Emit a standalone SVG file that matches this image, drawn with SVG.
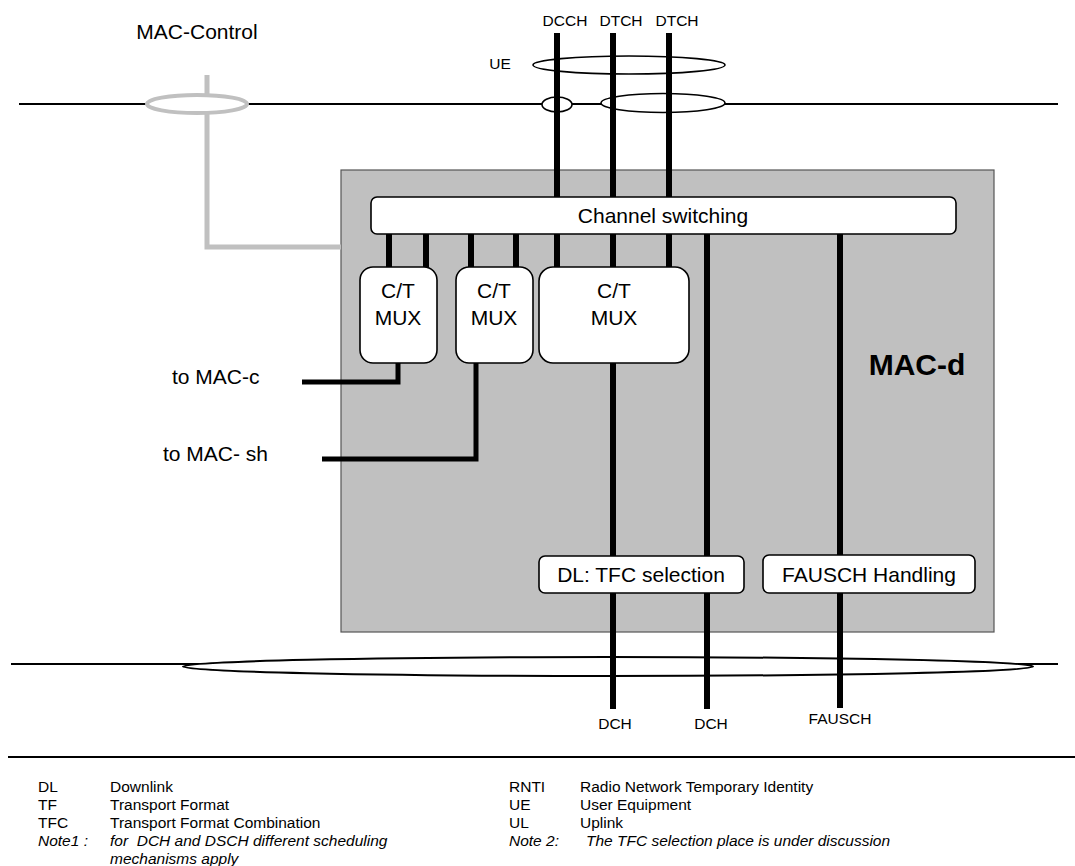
<svg xmlns="http://www.w3.org/2000/svg" width="1075" height="866" viewBox="0 0 1075 866">
<style>
  text { font-family: "Liberation Sans", Arial, sans-serif; fill: #000; }
  .lbl { font-size: 21px; }
  .sm { font-size: 15.5px; }
  .leg { font-size: 15.5px; }
  .it { font-style: italic; }
  .mid { text-anchor: middle; }
  .thin { stroke: #000; stroke-width: 2; fill: none; }
  .ch { stroke: #000; stroke-width: 6; fill: none; }
  .conn { stroke: #000; stroke-width: 5; fill: none; }
  .gray { stroke: #c0c0c0; stroke-width: 5; fill: none; }
  .ell { fill: #fff; stroke: #000; stroke-width: 1.6; }
  .box { fill: #fff; stroke: #000; stroke-width: 1.6; }
</style>
<rect width="1075" height="866" fill="#fff"/>

<g id="mac-d">
  <rect x="341" y="170" width="653" height="462" fill="#c0c0c0" stroke="#555" stroke-width="1.2"/>
  <text x="917" y="375" class="mid" font-size="30" font-weight="bold">MAC-d</text>
</g>

<g id="connectors">
  <!-- top horizontal bus -->
  <line x1="19" y1="104" x2="1058" y2="104" class="thin"/>
  <!-- MAC-control gray line -->
  <polyline points="207,75 207,247 341,247" class="gray"/>
  <ellipse cx="197" cy="104" rx="50" ry="9" fill="#fff" stroke="#c0c0c0" stroke-width="4"/>
  <!-- UE ellipses -->
  <ellipse cx="629" cy="65" rx="96" ry="9" class="ell"/>
  <ellipse cx="557" cy="104.5" rx="15" ry="7.5" class="ell"/>
  <ellipse cx="663" cy="103" rx="62" ry="9.5" class="ell"/>
  <!-- logical channels from top -->
  <line x1="557" y1="33" x2="557" y2="197" class="ch"/>
  <line x1="613" y1="33" x2="613" y2="197" class="ch"/>
  <line x1="669" y1="33" x2="669" y2="197" class="ch"/>
  <!-- channel switching to MUX -->
  <line x1="389" y1="234" x2="389" y2="267" class="ch"/>
  <line x1="426" y1="234" x2="426" y2="267" class="ch"/>
  <line x1="471" y1="234" x2="471" y2="267" class="ch"/>
  <line x1="516" y1="234" x2="516" y2="267" class="ch"/>
  <line x1="557" y1="234" x2="557" y2="267" class="ch"/>
  <line x1="613" y1="234" x2="613" y2="267" class="ch"/>
  <line x1="669" y1="234" x2="669" y2="267" class="ch"/>
  <!-- bottom bus -->
  <line x1="11" y1="664" x2="1058" y2="664" class="thin"/>
  <ellipse cx="608" cy="666.5" rx="425" ry="9.5" fill="#fff" stroke="#000" stroke-width="2"/>
  <!-- transport channels -->
  <line x1="613" y1="363" x2="613" y2="709" class="ch"/>
  <line x1="707" y1="234" x2="707" y2="709" class="ch"/>
  <line x1="840" y1="234" x2="840" y2="708" class="ch"/>
  <!-- to MAC-c / MAC-sh -->
  <polyline points="398,363 398,382 302,382" class="conn"/>
  <polyline points="476,363 476,459 322,459" class="conn"/>
</g>

<g id="channel-switching">
  <rect x="371" y="197" width="585" height="37" rx="6" class="box"/>
  <text x="663" y="223" class="lbl mid">Channel switching</text>
</g>

<g id="mux1">
  <rect x="360" y="267" width="77" height="96" rx="13" class="box"/>
  <text x="398" y="298" class="lbl mid">C/T</text>
  <text x="398" y="325" class="lbl mid">MUX</text>
</g>
<g id="mux2">
  <rect x="456" y="267" width="77" height="96" rx="13" class="box"/>
  <text x="494" y="298" class="lbl mid">C/T</text>
  <text x="494" y="325" class="lbl mid">MUX</text>
</g>
<g id="mux3">
  <rect x="539" y="267" width="150" height="96" rx="14" class="box"/>
  <text x="614" y="298" class="lbl mid">C/T</text>
  <text x="614" y="325" class="lbl mid">MUX</text>
</g>

<g id="tfc-selection">
  <rect x="539" y="556" width="205" height="37" rx="6" class="box"/>
  <text x="641" y="582" class="lbl mid">DL: TFC selection</text>
</g>
<g id="fausch-handling">
  <rect x="763" y="555" width="212" height="38" rx="6" class="box"/>
  <text x="869" y="582" class="lbl mid">FAUSCH Handling</text>
</g>

<g id="labels">
  <text x="197" y="39" class="lbl mid">MAC-Control</text>
  <text x="565" y="26" class="sm mid">DCCH</text>
  <text x="621" y="26" class="sm mid">DTCH</text>
  <text x="677" y="26" class="sm mid">DTCH</text>
  <text x="500" y="69" class="sm mid">UE</text>
  <text x="172" y="384" class="lbl">to MAC-c</text>
  <text x="163" y="461" class="lbl">to MAC- sh</text>
  <text x="615" y="729" class="sm mid">DCH</text>
  <text x="711" y="729" class="sm mid">DCH</text>
  <text x="840" y="724" class="sm mid">FAUSCH</text>
</g>

<g id="legend">
  <line x1="8" y1="757" x2="1075" y2="757" stroke="#000" stroke-width="2"/>
  <text x="38" y="792" class="leg">DL</text>
  <text x="110" y="792" class="leg">Downlink</text>
  <text x="38" y="810" class="leg">TF</text>
  <text x="110" y="810" class="leg">Transport Format</text>
  <text x="38" y="828" class="leg">TFC</text>
  <text x="110" y="828" class="leg">Transport Format Combination</text>
  <text x="38" y="846" class="leg it">Note1 :</text>
  <text x="110" y="846" class="leg it" xml:space="preserve">for  DCH and DSCH different scheduling</text>
  <text x="110" y="864" class="leg it">mechanisms apply</text>
  <text x="509" y="792" class="leg">RNTI</text>
  <text x="580" y="792" class="leg">Radio Network Temporary Identity</text>
  <text x="509" y="810" class="leg">UE</text>
  <text x="580" y="810" class="leg">User Equipment</text>
  <text x="509" y="828" class="leg">UL</text>
  <text x="580" y="828" class="leg">Uplink</text>
  <text x="509" y="846" class="leg it">Note 2:</text>
  <text x="586" y="846" class="leg it">The TFC selection place is under discussion</text>
</g>
</svg>
